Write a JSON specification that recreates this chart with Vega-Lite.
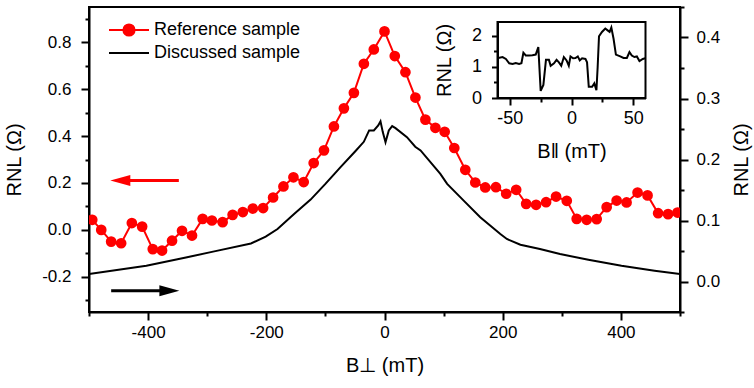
{
  "$schema": "https://vega.github.io/schema/vega-lite/v6.json",
  "width": 591,
  "height": 305,
  "autosize": {"type": "none"},
  "padding": {"left": 89, "top": 7, "right": 74, "bottom": 76},
  "background": "white",
  "config": {
    "view": {"stroke": "black", "strokeWidth": 2},
    "font": "Liberation Sans",
    "axis": {
      "grid": false,
      "domainColor": "black",
      "domainWidth": 2,
      "tickColor": "black",
      "tickWidth": 2,
      "labelFont": "Liberation Sans",
      "labelFontSize": 17,
      "labelColor": "black",
      "labelFlush": false,
      "labelOverlap": false,
      "titleFont": "Liberation Sans",
      "titleFontSize": 20,
      "titleFontWeight": "normal",
      "titleColor": "black"
    }
  },
  "layer": [
    {
      "data": {"values": [
        {"B": -494.5, "R": 0.043}, {"B": -479.3, "R": 0.0}, {"B": -462.5, "R": -0.05}, {"B": -445.6, "R": -0.057},
        {"B": -427.5, "R": 0.029}, {"B": -410.1, "R": 0.014}, {"B": -392.1, "R": -0.082}, {"B": -376.4, "R": -0.088},
        {"B": -359.5, "R": -0.046}, {"B": -342.6, "R": -0.004}, {"B": -325.7, "R": -0.024}, {"B": -307.7, "R": 0.047},
        {"B": -292.0, "R": 0.04}, {"B": -273.9, "R": 0.033}, {"B": -257.0, "R": 0.064}, {"B": -239.7, "R": 0.076},
        {"B": -222.8, "R": 0.091}, {"B": -205.4, "R": 0.093}, {"B": -188.5, "R": 0.138}, {"B": -171.0, "R": 0.185},
        {"B": -154.1, "R": 0.224}, {"B": -136.7, "R": 0.204}, {"B": -119.8, "R": 0.285}, {"B": -102.4, "R": 0.339},
        {"B": -85.6, "R": 0.441}, {"B": -68.7, "R": 0.518}, {"B": -51.8, "R": 0.584}, {"B": -34.9, "R": 0.708},
        {"B": -18.1, "R": 0.769}, {"B": 0.0, "R": 0.846}, {"B": 17.4, "R": 0.741}, {"B": 35.4, "R": 0.672},
        {"B": 52.3, "R": 0.564}, {"B": 69.2, "R": 0.47}, {"B": 86.1, "R": 0.435}, {"B": 101.8, "R": 0.418},
        {"B": 118.1, "R": 0.349}, {"B": 136.7, "R": 0.256}, {"B": 153.6, "R": 0.202}, {"B": 170.5, "R": 0.181},
        {"B": 188.5, "R": 0.182}, {"B": 205.9, "R": 0.154}, {"B": 222.8, "R": 0.171}, {"B": 239.7, "R": 0.111},
        {"B": 256.5, "R": 0.107}, {"B": 273.4, "R": 0.118}, {"B": 290.3, "R": 0.142}, {"B": 308.4, "R": 0.124},
        {"B": 325.2, "R": 0.047}, {"B": 342.1, "R": 0.043}, {"B": 359.0, "R": 0.046}, {"B": 375.9, "R": 0.097},
        {"B": 392.8, "R": 0.125}, {"B": 409.6, "R": 0.117}, {"B": 428.2, "R": 0.159}, {"B": 445.1, "R": 0.147},
        {"B": 463.0, "R": 0.071}, {"B": 479.8, "R": 0.067}, {"B": 495.7, "R": 0.074}
      ]},
      "mark": {"type": "line", "strokeWidth": 2, "clip": true, "point": {"filled": true, "size": 115, "opacity": 1}},
      "encoding": {
        "x": {
          "field": "B", "type": "quantitative",
          "scale": {"domain": [-500, 500], "nice": false, "zero": false},
          "axis": {
            "orient": "bottom",
            "values": [-500, -400, -300, -200, -100, 0, 100, 200, 300, 400, 500],
            "labelExpr": "abs(datum.value) % 200 === 0 ? (datum.value < 0 ? '-' : '') + format(abs(datum.value), 'd') : ''",
            "tickSize": {"condition": {"test": "abs(datum.value) % 200 === 0", "value": 8}, "value": 4},
            "labelPadding": 4,
            "title": "B⊥ (mT)",
            "titlePadding": 15
          }
        },
        "y": {
          "field": "R", "type": "quantitative",
          "scale": {"domain": [-0.35, 0.95], "nice": false, "zero": false},
          "axis": {
            "orient": "left",
            "labels": true,
            "values": [-0.3, -0.2, -0.1, 0, 0.1, 0.2, 0.3, 0.4, 0.5, 0.6, 0.7, 0.8, 0.9],
            "labelExpr": "indexof([-0.2, 0, 0.2, 0.4, 0.6, 0.8], datum.value) >= 0 ? (datum.value < 0 ? '-' : '') + format(abs(datum.value), '.1f') : ''",
            "tickSize": {"condition": {"test": "indexof([-0.2, 0, 0.2, 0.4, 0.6, 0.8], datum.value) >= 0", "value": 8}, "value": 4},
            "labelPadding": 10,
            "title": "RNL (Ω)",
            "titlePadding": 17
          }
        },
        "color": {
          "datum": "Reference sample", "type": "nominal",
          "scale": {"domain": ["Reference sample", "Discussed sample"], "range": ["#ff0000", "#000000"]},
          "legend": {
            "orient": "none",
            "legendX": 29,
            "legendY": 12,
            "title": null,
            "padding": 0,
            "labelFont": "Liberation Sans",
            "labelFontSize": 18,
            "labelColor": "black",
            "labelOffset": 14,
            "symbolSize": 400,
            "symbolStrokeWidth": 2,
            "rowPadding": 2,
            "encode": {
              "symbols": {
                "update": {
                  "shape": {"signal": "datum.value === 'Reference sample' ? 'M-2,0L2,0M-0.56,0A0.56,0.56 0 1,0 0.56,0A0.56,0.56 0 1,0 -0.56,0Z' : 'M-2,0L2,0'"},
                  "fill": {"signal": "datum.value === 'Reference sample' ? '#ff0000' : 'transparent'"},
                  "stroke": {"signal": "datum.value === 'Reference sample' ? '#ff0000' : '#000000'"},
                  "strokeWidth": {"value": 2},
                  "opacity": {"value": 1}
                }
              }
            }
          }
        }
      }
    },
    {
      "data": {"values": [
        {"B": -500, "R": 0.0122}, {"B": -403, "R": 0.0258}, {"B": -336, "R": 0.0394}, {"B": -290, "R": 0.049},
        {"B": -226, "R": 0.0624}, {"B": -201, "R": 0.0735}, {"B": -181, "R": 0.0861}, {"B": -153, "R": 0.1108},
        {"B": -125, "R": 0.1343}, {"B": -100, "R": 0.16}, {"B": -74, "R": 0.188}, {"B": -49, "R": 0.214},
        {"B": -35, "R": 0.229}, {"B": -26, "R": 0.2477}, {"B": -18, "R": 0.2477}, {"B": -10.6, "R": 0.2559},
        {"B": -6.8, "R": 0.2625}, {"B": -2.9, "R": 0.2449}, {"B": 1.7, "R": 0.2284}, {"B": 7.3, "R": 0.2477},
        {"B": 13, "R": 0.2547}, {"B": 18.6, "R": 0.2514}, {"B": 38, "R": 0.2366}, {"B": 52, "R": 0.221},
        {"B": 61, "R": 0.2148}, {"B": 94.5, "R": 0.1765}, {"B": 106, "R": 0.16}, {"B": 134, "R": 0.1326},
        {"B": 162, "R": 0.1052}, {"B": 196, "R": 0.0779}, {"B": 207, "R": 0.0697}, {"B": 230, "R": 0.0603},
        {"B": 263, "R": 0.0532}, {"B": 297, "R": 0.045}, {"B": 345, "R": 0.0357}, {"B": 401, "R": 0.0258},
        {"B": 457, "R": 0.0176}, {"B": 500, "R": 0.0122}
      ]},
      "mark": {"type": "line", "strokeWidth": 2, "clip": true},
      "encoding": {
        "x": {"field": "B", "type": "quantitative", "scale": {"domain": [-500, 500], "nice": false, "zero": false}, "axis": null},
        "y": {
          "field": "R", "type": "quantitative",
          "scale": {"domain": [-0.05, 0.45], "nice": false, "zero": false},
          "axis": {
            "orient": "right",
            "values": [-0.05, 0, 0.05, 0.1, 0.15, 0.2, 0.25, 0.3, 0.35, 0.4, 0.45],
            "labelExpr": "abs(round(datum.value * 100)) % 10 === 0 ? format(abs(datum.value), '.1f') : ''",
            "tickSize": {"condition": {"test": "abs(round(datum.value * 100)) % 10 === 0", "value": 8}, "value": 4},
            "labelPadding": 8,
            "title": "RNL (Ω)",
            "titleAngle": 270,
            "titleBaseline": "top",
            "titlePadding": 12
          }
        },
        "color": {"datum": "Discussed sample", "type": "nominal"}
      }
    },
    {
      "layer": [
        {
          "data": {"values": [{}]},
          "mark": {"type": "rule", "color": "#ff0000", "strokeWidth": 3},
          "encoding": {
            "x": {"datum": -447, "type": "quantitative", "scale": {"domain": [-500, 500], "nice": false, "zero": false}, "axis": null},
            "x2": {"datum": -348},
            "y": {"datum": 0.211, "type": "quantitative", "scale": {"domain": [-0.35, 0.95], "nice": false, "zero": false}, "axis": null}
          }
        },
        {
          "data": {"values": [{}]},
          "mark": {"type": "point", "shape": "M-1,0L1,-0.55L1,0.55Z", "filled": true, "color": "#ff0000", "size": 400, "opacity": 1},
          "encoding": {"x": {"datum": -447, "type": "quantitative", "axis": null}, "y": {"datum": 0.211, "type": "quantitative", "axis": null}}
        },
        {
          "data": {"values": [{}]},
          "mark": {"type": "rule", "color": "#000000", "strokeWidth": 3},
          "encoding": {"x": {"datum": -462.5, "type": "quantitative", "axis": null}, "x2": {"datum": -364}, "y": {"datum": -0.259, "type": "quantitative", "axis": null}}
        },
        {
          "data": {"values": [{}]},
          "mark": {"type": "point", "shape": "M1,0L-1,-0.55L-1,0.55Z", "filled": true, "color": "#000000", "size": 400, "opacity": 1},
          "encoding": {"x": {"datum": -364, "type": "quantitative", "axis": null}, "y": {"datum": -0.259, "type": "quantitative", "axis": null}}
        }
      ]
    },
    {
      "layer": [
        {
          "data": {"values": [
            {"B": -59.4, "R": 1.29}, {"B": -55.9, "R": 1.32}, {"B": -53.2, "R": 1.26}, {"B": -50.5, "R": 1.12},
            {"B": -47.8, "R": 1.10}, {"B": -45.2, "R": 1.13}, {"B": -42.5, "R": 1.10}, {"B": -40.6, "R": 1.12},
            {"B": -39.0, "R": 1.46}, {"B": -37.1, "R": 1.37}, {"B": -34.4, "R": 1.37}, {"B": -31.7, "R": 1.38},
            {"B": -29.0, "R": 1.40}, {"B": -26.9, "R": 1.64}, {"B": -25.0, "R": 0.23}, {"B": -22.8, "R": 0.42},
            {"B": -20.7, "R": 1.23}, {"B": -18.3, "R": 1.23}, {"B": -16.9, "R": 1.04}, {"B": -14.2, "R": 1.12},
            {"B": -12.1, "R": 1.23}, {"B": -10.2, "R": 1.15}, {"B": -8.3, "R": 1.04}, {"B": -6.2, "R": 1.32},
            {"B": -4.0, "R": 1.21}, {"B": -2.2, "R": 1.04}, {"B": -0.8, "R": 1.34}, {"B": 1.3, "R": 1.28},
            {"B": 3.2, "R": 1.29}, {"B": 5.1, "R": 1.34}, {"B": 6.7, "R": 1.21}, {"B": 8.6, "R": 1.28},
            {"B": 11.3, "R": 1.26}, {"B": 12.6, "R": 1.15}, {"B": 14.0, "R": 0.36}, {"B": 16.7, "R": 0.36},
            {"B": 18.5, "R": 0.47}, {"B": 20.2, "R": 0.25}, {"B": 21.2, "R": 0.99}, {"B": 22.3, "R": 1.99},
            {"B": 24.7, "R": 2.13}, {"B": 27.4, "R": 2.24}, {"B": 29.3, "R": 2.18}, {"B": 30.9, "R": 2.13},
            {"B": 32.3, "R": 2.27}, {"B": 34.1, "R": 1.91}, {"B": 36.0, "R": 1.40}, {"B": 39.5, "R": 1.34},
            {"B": 42.2, "R": 1.29}, {"B": 44.9, "R": 1.29}, {"B": 47.0, "R": 1.48}, {"B": 48.9, "R": 1.37},
            {"B": 51.0, "R": 1.32}, {"B": 53.0, "R": 1.34}, {"B": 55.1, "R": 1.19}, {"B": 57.8, "R": 1.26},
            {"B": 59.7, "R": 1.28}
          ]},
          "mark": {"type": "line", "strokeWidth": 2, "color": "black"},
          "encoding": {
            "x": {
              "field": "B", "type": "quantitative",
              "scale": {"domain": [-60, 60], "range": [408.5, 556.5], "nice": false, "zero": false},
              "axis": {
                "orient": "bottom",
                "offset": -214,
                "values": [-50, -25, 0, 25, 50],
                "labelExpr": "abs(datum.value) % 50 === 0 ? (datum.value < 0 ? '-' : '') + format(abs(datum.value), 'd') : ''",
                "tickSize": {"condition": {"test": "abs(datum.value) % 50 === 0", "value": 7}, "value": 4},
                "labelFontSize": 18,
                "labelPadding": 4,
                "title": "B‖ (mT)",
                "titlePadding": 14
              }
            },
            "y": {
              "field": "R", "type": "quantitative",
              "scale": {"domain": [0, 2.45], "range": [91, 15], "nice": false, "zero": false},
              "axis": {
                "orient": "left",
                "offset": -408.5,
                "values": [0, 0.5, 1, 1.5, 2],
                "labelExpr": "datum.value % 1 === 0 ? format(datum.value, 'd') : ''",
                "tickSize": {"condition": {"test": "datum.value % 1 === 0", "value": 6}, "value": 4},
                "labelFontSize": 18,
                "labelPadding": 10,
                "title": "RNL (Ω)",
                "titlePadding": 17
              }
            }
          }
        },
        {
          "data": {"values": [{}]},
          "mark": {"type": "rect", "fillOpacity": 0, "stroke": "black", "strokeWidth": 2},
          "encoding": {
            "x": {"datum": -60}, "x2": {"datum": 60},
            "y": {"datum": 0}, "y2": {"datum": 2.45}
          }
        }
      ]
    }
  ],
  "resolve": {
    "scale": {"x": "independent", "y": "independent"},
    "axis": {"x": "independent", "y": "independent"}
  }
}
